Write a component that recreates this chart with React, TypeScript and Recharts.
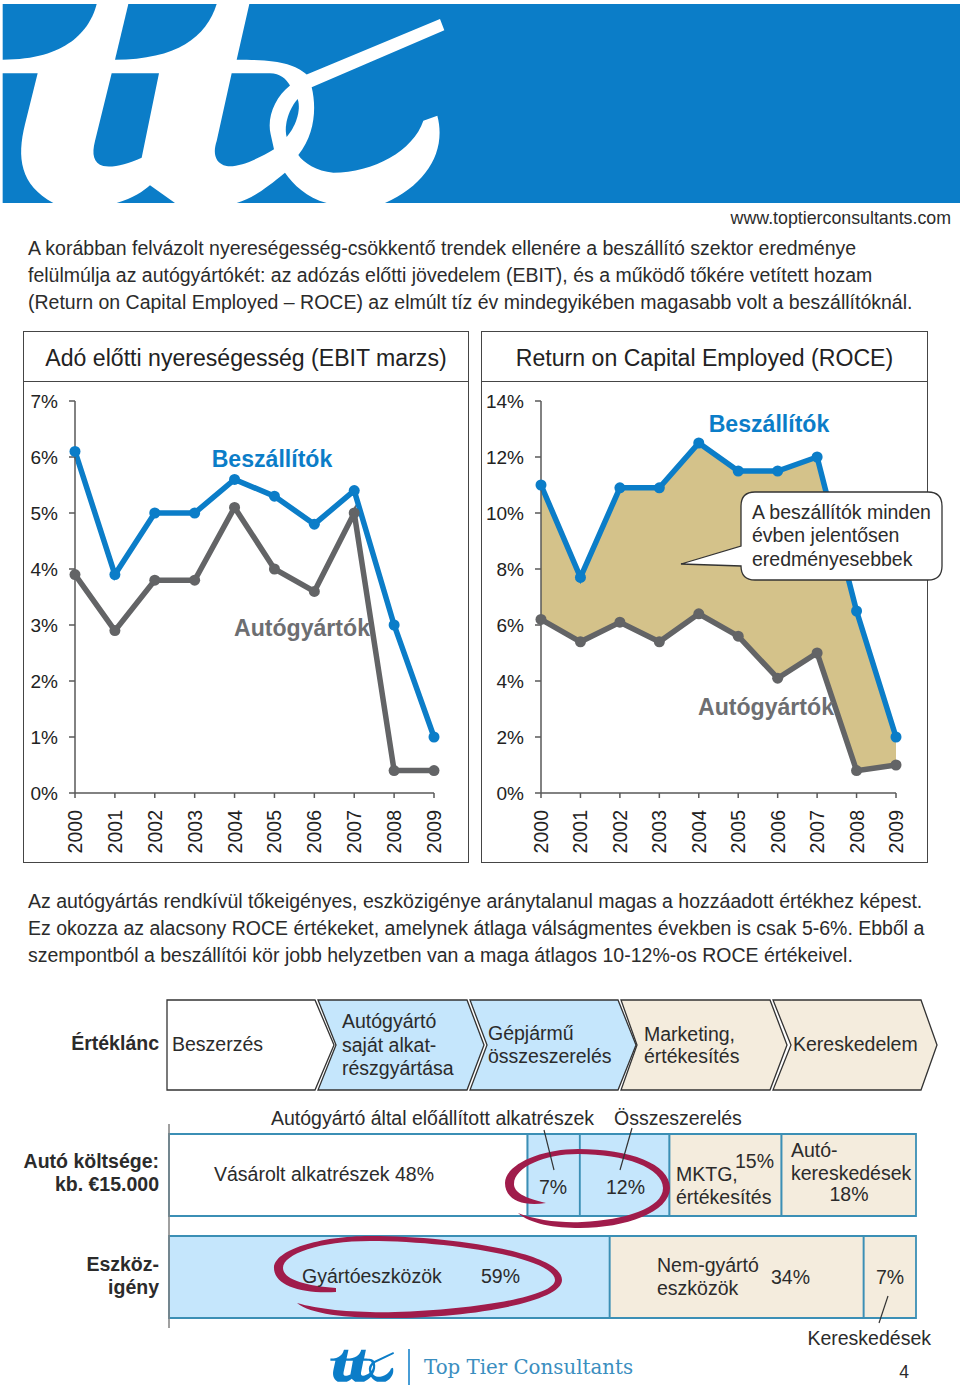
import { ComposedChart, BarChart, Area, Bar, Line, XAxis, YAxis } from 'recharts';

// values
const years = ['2000', '2001', '2002', '2003', '2004', '2005', '2006', '2007', '2008', '2009'];
const ebitSuppliers = [6.1, 3.9, 5.0, 5.0, 5.6, 5.3, 4.8, 5.4, 3.0, 1.0];
const ebitMakers = [3.9, 2.9, 3.8, 3.8, 5.1, 4.0, 3.6, 5.0, 0.4, 0.4];
const roceSuppliers = [11, 7.7, 10.9, 10.9, 12.5, 11.5, 11.5, 12, 6.5, 2];
const roceMakers = [6.2, 5.4, 6.1, 5.4, 6.4, 5.6, 4.1, 5.0, 0.8, 1.0];
const ebitTicks = [0, 1, 2, 3, 4, 5, 6, 7];
const roceTicks = [0, 2, 4, 6, 8, 10, 12, 14];
const costShares = [48, 7, 12, 15, 18];
const assetShares = [59, 34, 7];

const BLUE = '#0b7dc8';
const GREY = '#636466';
const FONT = '"Liberation Sans", Arial, sans-serif';
const TXT = '#2b2b2b';
const LIGHT_BLUE = '#c5e6fc';
const TAN = '#f4ecdd';
const BAR_LINE = '#3b8fb5';

const ebitRows = years.map((y, i) => ({ year: y, sup: ebitSuppliers[i], mak: ebitMakers[i] }));
const roceRows = years.map((y, i) => ({
  year: y,
  sup: roceSuppliers[i],
  mak: roceMakers[i],
  band: [roceMakers[i], roceSuppliers[i]],
}));
const shareRows = [
  { name: 'cost', c0: costShares[0], c1: costShares[1], c2: costShares[2], c3: costShares[3], c4: costShares[4] },
  { name: 'asset', a0: assetShares[0], a1: assetShares[1], a2: assetShares[2] },
];

// blue areas left over around the white logo letters
const logoHoles = [
  'M8 12 L290 12 C270 90 200 178 8 178 Z',
  'M385 12 L650 12 C620 110 530 178 345 178 Z',
  'M748 12 L1440 12 L1440 605 L1155 605 C1280 550 1340 450 1312 345 L1270 360 C1240 450 1120 515 1000 515 C950 510 910 485 895 462 C945 400 950 320 935 260 L1333 90 L1320 57 L920 222 C880 190 840 178 710 178 Z',
  'M8 218 L113 218 L75 370 C50 470 60 550 160 605 L8 605 Z',
  'M335 218 L477 218 L425 470 C380 490 340 500 310 495 C280 485 275 460 285 420 Z',
  'M695 218 L810 218 C840 218 860 235 870 255 C825 290 800 350 812 400 L822 445 C780 470 720 500 680 495 C640 485 640 450 650 420 Z',
  'M893 295 C870 320 850 370 860 408 C885 380 905 330 893 295 Z',
  'M450 552 L525 605 L350 605 C400 590 430 570 450 552 Z',
  'M855 515 C800 560 760 590 710 605 L980 605 C920 590 880 550 855 515 Z',
];

function T({ x, y, s = 19.5, c = TXT, b = false, a = 'left', f = FONT, children }: any) {
  const shift = a === 'left' ? '0' : a === 'right' ? '-100%' : '-50%';
  return (
    <div
      style={{
        position: 'absolute',
        left: x,
        top: y + 1,
        transform: `translate(${shift}, -50%)`,
        fontFamily: f,
        fontSize: s,
        fontWeight: b ? 700 : 400,
        color: c,
        whiteSpace: 'nowrap',
        lineHeight: 1,
      }}
    >
      {children}
    </div>
  );
}

function YearTick({ x, y, payload }: any) {
  return (
    <text
      x={x}
      y={y + 10}
      transform={`rotate(-90 ${x} ${y + 10})`}
      textAnchor="end"
      dominantBaseline="central"
      fontFamily={FONT}
      fontSize={19.5}
      fill="#222"
    >
      {payload.value}
    </text>
  );
}

function Panel({ left, width, title }: any) {
  return (
    <div
      style={{
        position: 'absolute',
        left,
        top: 331,
        width,
        height: 532,
        boxSizing: 'border-box',
        border: '1.5px solid #454545',
      }}
    >
      <div style={{ height: 49, borderBottom: '1.5px solid #454545', boxSizing: 'content-box' }}>
        <div
          style={{
            fontFamily: FONT,
            fontSize: 23.1,
            color: '#222',
            textAlign: 'center',
            lineHeight: '52px',
            whiteSpace: 'nowrap',
          }}
        >
          {title}
        </div>
      </div>
    </div>
  );
}

function SeriesChart({ left, axisAt, endAt, rows, ticks, max, fill }: any) {
  const axisProps = { stroke: '#595959', strokeWidth: 1.5 };
  return (
    <div style={{ position: 'absolute', left, top: 390 }}>
      <ComposedChart
        width={480}
        height={480}
        data={rows}
        margin={{ top: 11, left: axisAt - 60, right: 480 - endAt, bottom: 0 }}
      >
        <XAxis
          dataKey="year"
          scale="point"
          height={77}
          tickSize={5}
          tickMargin={2}
          interval={0}
          tick={YearTick}
          {...axisProps}
        />
        <YAxis
          width={60}
          type="number"
          domain={[0, max]}
          ticks={ticks}
          interval={0}
          tickSize={6}
          tickMargin={11}
          tickFormatter={(v: number) => `${v}%`}
          tick={{ fontFamily: FONT, fontSize: 19, fill: '#222' }}
          {...axisProps}
        />
        {fill ? (
          <Area dataKey="band" type="linear" fill="#d4c28a" fillOpacity={1} stroke="none" isAnimationActive={false} />
        ) : null}
        <Line
          dataKey="mak"
          type="linear"
          stroke={GREY}
          strokeWidth={5.5}
          dot={{ r: 5.5, fill: GREY, stroke: GREY, strokeWidth: 0 }}
          isAnimationActive={false}
        />
        <Line
          dataKey="sup"
          type="linear"
          stroke={BLUE}
          strokeWidth={5.5}
          dot={{ r: 5.5, fill: BLUE, stroke: BLUE, strokeWidth: 0 }}
          isAnimationActive={false}
        />
      </ComposedChart>
    </div>
  );
}

const chain = [
  { d: 'M167 1000 L315 1000 L334 1045 L315 1090 L167 1090 Z', fill: '#fff' },
  { d: 'M318 1000 L467 1000 L484 1045 L467 1090 L318 1090 L336 1045 Z', fill: LIGHT_BLUE },
  { d: 'M470 1000 L618 1000 L636 1045 L618 1090 L470 1090 L487 1045 Z', fill: LIGHT_BLUE },
  { d: 'M621 1000 L770 1000 L787 1045 L770 1090 L621 1090 L637 1045 Z', fill: TAN },
  { d: 'M773 1000 L921 1000 L937 1045 L921 1090 L773 1090 L791 1045 Z', fill: TAN },
];

export default function App() {
  const barBase = { stackId: 's', stroke: BAR_LINE, strokeWidth: 1.8, isAnimationActive: false };
  return (
    <div style={{ position: 'absolute', left: 0, top: 0, width: 960, height: 1389, background: '#fff', overflow: 'hidden' }}>
      {/* header logo */}
      <svg style={{ position: 'absolute', left: 0, top: 0 }} width={960} height={210}>
        <rect x={480} y={4} width={480} height={199} fill={BLUE} />
        <g transform="scale(0.33333 0.3355)">
          {logoHoles.map((d, i) => (
            <path key={i} d={d} fill={BLUE} />
          ))}
        </g>
      </svg>

      <T x={951} y={218} a="right" s={17.8}>www.toptierconsultants.com</T>
      <T x={28} y={248}>A korábban felvázolt nyereségesség-csökkentő trendek ellenére a beszállító szektor eredménye</T>
      <T x={28} y={275}>felülmúlja az autógyártókét: az adózás előtti jövedelem (EBIT), és a működő tőkére vetített hozam</T>
      <T x={28} y={302}>(Return on Capital Employed – ROCE) az elmúlt tíz év mindegyikében magasabb volt a beszállítóknál.</T>

      <Panel left={23} width={446} title="Adó előtti nyereségesség (EBIT marzs)" />
      <Panel left={481} width={447} title="Return on Capital Employed (ROCE)" />
      <SeriesChart left={0} axisAt={75} endAt={434} rows={ebitRows} ticks={ebitTicks} max={7} />
      <SeriesChart left={480} axisAt={61} endAt={416} rows={roceRows} ticks={roceTicks} max={14} fill />

      <T x={272} y={459} a="center" s={23.1} b c={BLUE}>Beszállítók</T>
      <T x={302} y={628} a="center" s={23.1} b c="#6d6e71">Autógyártók</T>
      <T x={769} y={424} a="center" s={23.1} b c={BLUE}>Beszállítók</T>
      <T x={766} y={707} a="center" s={23.1} b c="#6d6e71">Autógyártók</T>

      {/* callout */}
      <svg style={{ position: 'absolute', left: 0, top: 0 }} width={960} height={900}>
        <path
          d="M755 492 L928 492 Q942 492 942 506 L942 566 Q942 580 928 580 L755 580 Q741 580 741 566 L681 564 L741 546 L741 506 Q741 492 755 492 Z"
          fill="#fff"
          stroke="#333"
          strokeWidth={1.3}
        />
      </svg>
      <T x={752} y={512}>A beszállítók minden</T>
      <T x={752} y={535}>évben jelentősen</T>
      <T x={752} y={559}>eredményesebbek</T>

      <T x={28} y={901}>Az autógyártás rendkívül tőkeigényes, eszközigénye aránytalanul magas a hozzáadott értékhez képest.</T>
      <T x={28} y={928}>Ez okozza az alacsony ROCE értékeket, amelynek átlaga válságmentes években is csak 5-6%. Ebből a</T>
      <T x={28} y={955}>szempontból a beszállítói kör jobb helyzetben van a maga átlagos 10-12%-os ROCE értékeivel.</T>

      {/* value chain */}
      <svg style={{ position: 'absolute', left: 0, top: 0 }} width={960} height={1100}>
        {chain.map((c, i) => (
          <path key={i} d={c.d} fill={c.fill} stroke="#333" strokeWidth={1.3} />
        ))}
      </svg>
      <T x={159} y={1043} a="right" b>Értéklánc</T>
      <T x={172} y={1044}>Beszerzés</T>
      <T x={342} y={1021}>Autógyártó</T>
      <T x={342} y={1045}>saját alkat-</T>
      <T x={342} y={1068}>részgyártása</T>
      <T x={488} y={1033}>Gépjármű</T>
      <T x={488} y={1056}>összeszerelés</T>
      <T x={644} y={1034}>Marketing,</T>
      <T x={644} y={1056}>értékesítés</T>
      <T x={793} y={1044}>Kereskedelem</T>

      {/* stacked cost and asset bars */}
      <div style={{ position: 'absolute', left: 165, top: 1124 }}>
        <BarChart
          width={755}
          height={204}
          layout="vertical"
          data={shareRows}
          barSize={82}
          margin={{ top: 0, left: 0, right: 4, bottom: 0 }}
        >
          <XAxis type="number" domain={[0, 100]} hide />
          <YAxis type="category" dataKey="name" width={4} tick={false} tickLine={false} stroke="#808080" strokeWidth={1.5} />
          <Bar dataKey="c0" fill="#fff" {...barBase} />
          <Bar dataKey="c1" fill={LIGHT_BLUE} {...barBase} />
          <Bar dataKey="c2" fill={LIGHT_BLUE} {...barBase} />
          <Bar dataKey="c3" fill={TAN} {...barBase} />
          <Bar dataKey="c4" fill={TAN} {...barBase} />
          <Bar dataKey="a0" fill={LIGHT_BLUE} {...barBase} />
          <Bar dataKey="a1" fill={TAN} {...barBase} />
          <Bar dataKey="a2" fill={TAN} {...barBase} />
        </BarChart>
      </div>

      {/* hand drawn rings, pointer lines and footer logo */}
      <svg style={{ position: 'absolute', left: 0, top: 0 }} width={960} height={1389}>
        <path
          d="M546 1203 C520 1207 505 1198 505 1183 C505 1165 540 1149 578 1149 C630 1149 670 1164 670 1188 C670 1212 625 1228 580 1228 C555 1228 530 1224 518 1213 C535 1220 560 1223 582 1222 C625 1220 663 1208 663 1188 C663 1168 625 1154 578 1154 C545 1154 514 1167 514 1184 C514 1192 524 1198 546 1203 Z"
          fill="#a01c4b"
        />
        <path
          d="M336 1292 C300 1294 274 1285 274 1268 C274 1250 320 1236 370 1236 C450 1236 562 1252 562 1280 C562 1302 470 1318 390 1318 C345 1318 310 1314 297 1303 C320 1310 360 1313 395 1312 C470 1310 555 1297 555 1280 C555 1258 450 1241 370 1241 C320 1241 283 1254 283 1268 C283 1279 305 1286 336 1288 Z"
          fill="#a01c4b"
        />
        <line x1={544} y1={1130} x2={554} y2={1170} stroke="#333" strokeWidth={1.2} />
        <line x1={632} y1={1128} x2={620} y2={1170} stroke="#333" strokeWidth={1.2} />
        <line x1={888} y1={1296} x2={879} y2={1323} stroke="#333" strokeWidth={1.2} />
        <g transform="translate(330 1349) scale(0.048 0.054)">
          <path d={`M8 12 L1440 12 L1440 605 L8 605 Z ${logoHoles.join(' ')}`} fill={BLUE} fillRule="evenodd" />
        </g>
        <line x1={409} y1={1349} x2={409} y2={1385} stroke={BLUE} strokeWidth={1.5} />
      </svg>

      <T x={271} y={1118}>Autógyártó által előállított alkatrészek</T>
      <T x={614} y={1118}>Összeszerelés</T>
      <T x={159} y={1161} a="right" b>Autó költsége:</T>
      <T x={159} y={1184} a="right" b>kb. €15.000</T>
      <T x={214} y={1174}>Vásárolt alkatrészek 48%</T>
      <T x={539} y={1187}>7%</T>
      <T x={606} y={1187}>12%</T>
      <T x={735} y={1161}>15%</T>
      <T x={676} y={1174}>MKTG,</T>
      <T x={676} y={1197}>értékesítés</T>
      <T x={791} y={1150}>Autó-</T>
      <T x={791} y={1173}>kereskedések</T>
      <T x={849} y={1194} a="center">18%</T>
      <T x={159} y={1264} a="right" b>Eszköz-</T>
      <T x={159} y={1287} a="right" b>igény</T>
      <T x={302} y={1276}>Gyártóeszközök</T>
      <T x={481} y={1276}>59%</T>
      <T x={657} y={1265}>Nem-gyártó</T>
      <T x={657} y={1288}>eszközök</T>
      <T x={771} y={1277}>34%</T>
      <T x={876} y={1277}>7%</T>
      <T x={931} y={1338} a="right">Kereskedések</T>
      <T x={424} y={1367} s={19.8} c="#3a8ebf" f='"DejaVu Serif", serif'>Top Tier Consultants</T>
      <T x={904} y={1372} a="center" s={17.5}>4</T>
    </div>
  );
}
